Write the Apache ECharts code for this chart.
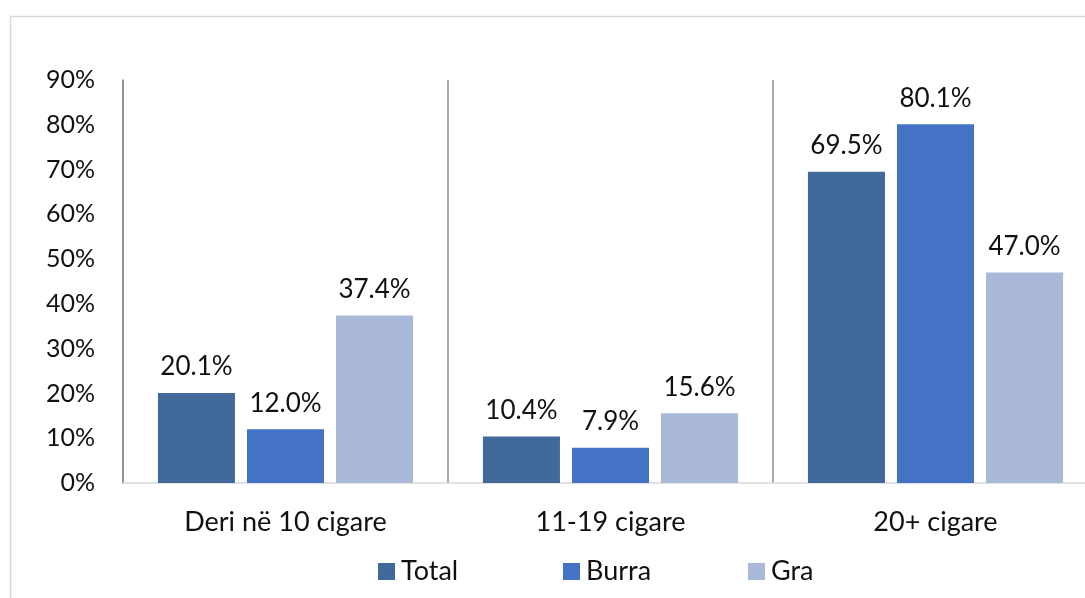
<!DOCTYPE html>
<html><head><meta charset="utf-8">
<script src="https://cdn.jsdelivr.net/npm/echarts@6/dist/echarts.min.js"></script>
<style>html,body{margin:0;padding:0;background:#fff}#c{width:1085px;height:598px}</style>
</head><body><div id="c"></div>
<script>
var categories = ['Deri në 10 cigare', '11-19 cigare', '20+ cigare'];
var seriesNames = ['Total', 'Burra', 'Gra'];
var totalValues = [20.1, 10.4, 69.5];
var burraValues = [12.0, 7.9, 80.1];
var graValues = [37.4, 15.6, 47.0];
var colors = ['#416A9B', '#4472C4', '#AAB9D7'];
var FONT = 'Lato, "Open Sans", sans-serif';

var chart = echarts.init(document.getElementById('c'));
function mk(name, data, color) {
  return {
    name: name, type: 'bar', data: data,
    itemStyle: { color: color },
    barGap: '15.6%', barCategoryGap: '21.5%',
    label: { show: true, position: 'top', distance: 13, color: '#111', fontSize: 26, fontFamily: FONT,
      formatter: function (p) { return p.value.toFixed(1) + '%'; } }
  };
}
var legendLefts = [373, 558, 743];
var legends = seriesNames.map(function (n, i) {
  return {
    data: [n], top: 553, left: legendLefts[i], itemWidth: 17, itemHeight: 17,
    icon: 'rect', selectedMode: false,
    textStyle: { fontSize: 27, fontFamily: FONT, color: '#111', padding: [0, 0, 0, 1] }
  };
});
chart.setOption({
  animation: false,
  graphic: [{ type: 'rect', shape: { x: 10.5, y: 16.5, width: 1200, height: 700 }, style: { fill: 'none', stroke: '#D9D9D9', lineWidth: 1.5 }, z: -1 }],
  grid: { left: 123, top: 80, width: 975, height: 403, outerBoundsMode: 'none', containLabel: false },
  legend: legends,
  xAxis: {
    type: 'category', data: categories,
    axisLine: { lineStyle: { color: '#D9D9D9', width: 1.5 } },
    axisTick: { show: false },
    splitLine: { show: true, lineStyle: { color: '#8C8C8C', width: 1.5 } },
    axisLabel: { fontSize: 27, fontFamily: FONT, color: '#111', margin: 26 }
  },
  yAxis: {
    type: 'value', min: 0, max: 90, interval: 10,
    axisLine: { show: true, lineStyle: { color: '#8C8C8C', width: 1.5 } },
    axisTick: { show: false },
    splitLine: { show: false },
    axisLabel: { fontSize: 25, fontFamily: FONT, color: '#111', margin: 28, formatter: '{value}%' }
  },
  series: [mk(seriesNames[0], totalValues, colors[0]), mk(seriesNames[1], burraValues, colors[1]), mk(seriesNames[2], graValues, colors[2])]
});
</script></body></html>
